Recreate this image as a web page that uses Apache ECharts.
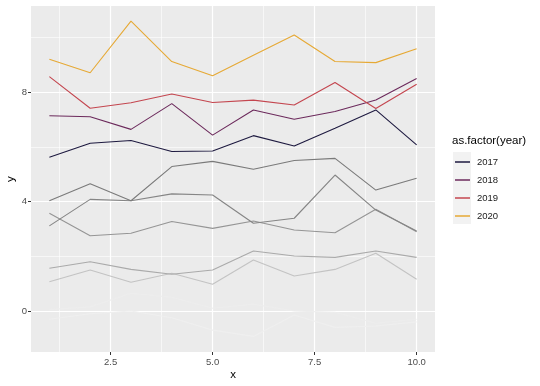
<!DOCTYPE html>
<html>
<head>
<meta charset="utf-8">
<script src="https://cdn.jsdelivr.net/npm/echarts@6/dist/echarts.min.js"></script>
<style>html,body{margin:0;padding:0;background:#fff}#c{width:540px;height:386px}</style>
</head>
<body>
<div id="c"></div>
<script>
// ---- data ----
const xs = [1, 2, 3, 4, 5, 6, 7, 8, 9, 10];
const y2017 = [5.62, 6.13, 6.23, 5.83, 5.85, 6.41, 6.03, 6.68, 7.35, 6.07];
const y2018 = [7.14, 7.10, 6.64, 7.58, 6.43, 7.35, 7.01, 7.29, 7.71, 8.50];
const y2019 = [8.57, 7.41, 7.61, 7.93, 7.62, 7.71, 7.53, 8.35, 7.40, 8.29];
const y2020 = [9.20, 8.71, 10.60, 9.12, 8.60, 9.35, 10.09, 9.12, 9.08, 9.59];
// other years (grey background lines)
const g1 = [4.03, 4.65, 4.03, 5.28, 5.47, 5.18, 5.50, 5.58, 4.42, 4.85];
const g2 = [3.11, 4.08, 4.03, 4.28, 4.24, 3.21, 3.39, 4.97, 3.69, 2.92];
const g3 = [3.57, 2.75, 2.84, 3.27, 3.02, 3.29, 2.96, 2.86, 3.72, 2.90];
const g4 = [1.56, 1.80, 1.52, 1.34, 1.50, 2.19, 2.01, 1.96, 2.19, 1.96];
const g5 = [1.07, 1.50, 1.05, 1.38, 0.98, 1.86, 1.28, 1.52, 2.11, 1.16];
const g6 = [0.05, 0.15, 0.65, 0.50, 0.10, 0.25, 0.00, -0.05, -0.45, -0.30];
const g7 = [-0.30, -0.10, 0.00, -0.25, -0.70, -0.93, -0.15, -0.60, -0.55, -0.40];
const years = ['2017', '2018', '2019', '2020'];
const xTicks = [2.5, 5, 7.5, 10];
const xMinor = [1.25, 3.75, 6.25, 8.75];
const yTicks = [0, 4, 8];
const yMinor = [2, 6, 10];
const xLabel = 'x', yLabel = 'y', legendTitle = 'as.factor(year)';

// ---- styles ----
const yearColors = ['#1E1A40', '#6C2A5C', '#C4464F', '#E6A935'];
const greyColors = ['#7A7A7A', '#858585', '#959595', '#AAAAAA', '#C3C3C3', '#EDEDED', '#EFEFEF'];
const FONT = 'Liberation Sans, Arial, sans-serif';

const pts = arr => xs.map((x, i) => [x, arr[i]]);
const greys = [g1, g2, g3, g4, g5, g6, g7];

const series = [];
const gl = (w) => ({ color: '#FFFFFF', width: w, type: 'solid', opacity: 1 });
series.push({
  type: 'line', name: '_grid', data: [], z: 0, silent: true,
  markLine: {
    silent: true, z: 0, symbol: ['none', 'none'], label: { show: false }, animation: false,
    emphasis: { disabled: true },
    data: [
      ...xMinor.map(v => ({ xAxis: v, lineStyle: gl(0.6) })),
      ...yMinor.map(v => ({ yAxis: v, lineStyle: gl(0.6) })),
      ...xTicks.map(v => ({ xAxis: v, lineStyle: gl(1.2) })),
      ...yTicks.map(v => ({ yAxis: v, lineStyle: gl(1.2) }))
    ]
  }
});
greys.slice().reverse().forEach((g, k) => {
  const i = greys.length - 1 - k;
  series.push({
    type: 'line', name: 'other' + i, data: pts(g), showSymbol: false, z: 10,
    lineStyle: { color: greyColors[i], width: 1.1 }, itemStyle: { color: greyColors[i] },
    silent: true
  });
});
[y2017, y2018, y2019, y2020].forEach((arr, i) => {
  series.push({
    type: 'line', name: years[i], data: pts(arr), showSymbol: false, z: 11,
    lineStyle: { color: yearColors[i], width: 1.1 }, itemStyle: { color: yearColors[i] },
    silent: true
  });
});

const chart = echarts.init(document.getElementById('c'), null, { renderer: 'canvas' });
chart.setOption({
  animation: false,
  backgroundColor: '#FFFFFF',
  grid: { left: 31, right: 105, top: 6, bottom: 34, show: true, backgroundColor: '#EBEBEB', borderWidth: 0, outerBoundsMode: 'none', containLabel: false },
  xAxis: {
    type: 'value', min: 0.55, max: 10.45,
    name: xLabel, nameLocation: 'middle', nameGap: 17, nameMoveOverlap: false,
    nameTextStyle: { fontFamily: FONT, fontSize: 11.5, color: '#000' },
    axisLine: { show: false, onZero: false },
    splitLine: { show: false },
    axisTick: { show: true, length: 3, lineStyle: { color: '#333', width: 1 }, customValues: xTicks },
    axisLabel: { customValues: xTicks, formatter: v => Number(v).toFixed(1), fontFamily: FONT, fontSize: 9.5, color: '#4D4D4D', margin: 5 }
  },
  yAxis: {
    type: 'value', min: -1.5, max: 11.15,
    name: yLabel, nameLocation: 'middle', nameGap: 14, nameMoveOverlap: false,
    nameTextStyle: { fontFamily: FONT, fontSize: 11.5, color: '#000' },
    axisLine: { show: false, onZero: false },
    splitLine: { show: false },
    axisTick: { show: true, length: 3, lineStyle: { color: '#333', width: 1 }, customValues: yTicks },
    axisLabel: { customValues: yTicks, formatter: v => String(v), fontFamily: FONT, fontSize: 9.5, color: '#4D4D4D', margin: 4 }
  },
  title: {
    text: legendTitle, left: 452, top: 135, padding: 0,
    textStyle: { fontFamily: FONT, fontSize: 11.5, fontWeight: 'normal', color: '#000' }
  },
  graphic: [0, 1, 2, 3].map(i => ({
    type: 'rect', left: 453, top: 152 + i * 18, z: -1,
    shape: { width: 18, height: 18 }, style: { fill: '#F2F2F2' }
  })),
  legend: {
    data: years, orient: 'vertical', left: 455, top: 153, padding: 0,
    itemGap: 0, itemWidth: 15, itemHeight: 1.5, icon: 'rect',
    selectedMode: false,
    textStyle: { fontFamily: FONT, fontSize: 9.5, color: '#1A1A1A', lineHeight: 18, padding: [0, 0, 0, 2] }
  },
  series
});
</script>
</body>
</html>
